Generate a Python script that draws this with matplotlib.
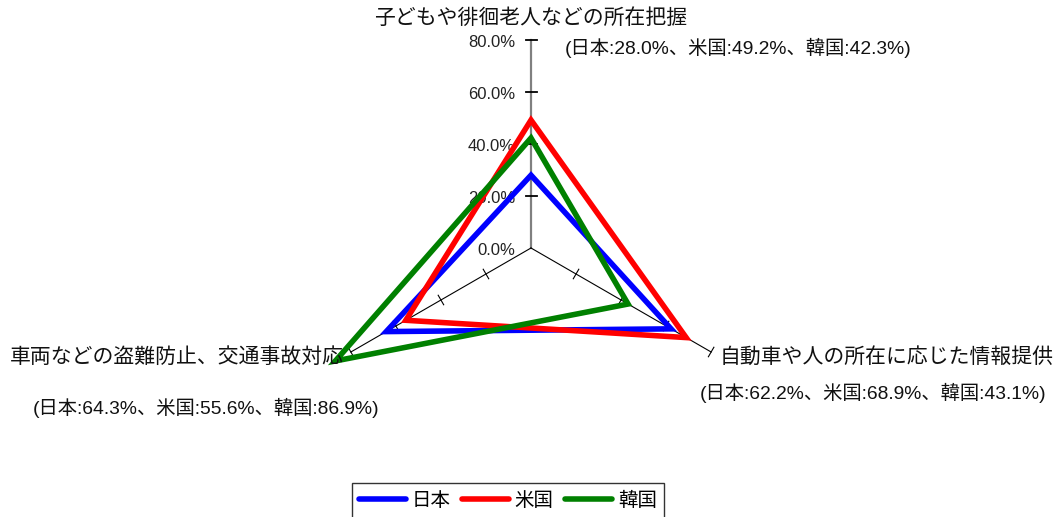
import numpy as np
import matplotlib
matplotlib.use('Agg')
import matplotlib.pyplot as plt
from matplotlib.lines import Line2D
from matplotlib.patches import Polygon
from matplotlib import font_manager

# ---- data ----
categories = ['子どもや徘徊老人などの所在把握',
              '自動車や人の所在に応じた情報提供',
              '車両などの盗難防止、交通事故対応']
series_names = ['日本', '米国', '韓国']
japan = [28.0, 62.2, 64.3]
usa = [49.2, 68.9, 55.6]
korea = [42.3, 43.1, 86.9]
radial_ticks = [0, 20, 40, 60, 80]
radial_tick_labels = ['0.0%', '20.0%', '40.0%', '60.0%', '80.0%']

series_values = [japan, usa, korea]
colors = ['#0000FF', '#FF0000', '#008000']

# ---- fonts ----
names = {f.name for f in font_manager.fontManager.ttflist}
narrow = 'Liberation Sans Narrow' if 'Liberation Sans Narrow' in names else 'Liberation Sans'
has_narrow = narrow == 'Liberation Sans Narrow'
cjk = 'Noto Sans CJK JP'
mixed = [narrow, cjk, 'DejaVu Sans']
plt.rcParams['font.family'] = [cjk, 'DejaVu Sans']

W, H = 1056, 517
fig = plt.figure(figsize=(W / 100, H / 100), dpi=100)
ax = fig.add_axes([0, 0, 1, 1])
s = 2.6          # pixels per percent
cx, cy = 531, 248  # centre in pixels (from top-left)
ax.set_xlim(-cx / s, (W - cx) / s)
ax.set_ylim(-(H - cy) / s, cy / s)
ax.axis('off')

angles = np.deg2rad([90, -30, 210])
rmax = radial_ticks[-1]


def xy(r, k):
    return r * np.cos(angles[k]), r * np.sin(angles[k])


# spokes
for k in range(3):
    x1, y1 = xy(rmax, k)
    if k == 0:
        ax.plot([0, x1], [0, y1], color='#808080', lw=1.6, zorder=1)
    else:
        ax.plot([0, x1], [0, y1], color='black', lw=0.8, zorder=1)
    # tick marks perpendicular to spokes
    half = 5.5 / s
    px, py = -np.sin(angles[k]), np.cos(angles[k])
    for t in radial_ticks[1:]:
        tx, ty = xy(t, k)
        ax.plot([tx - half * px, tx + half * px], [ty - half * py, ty + half * py],
                color='black', lw=1.3 if k == 0 else 0.8, zorder=1)

# radial tick labels on top spoke
tick_fs = 14 if has_narrow else 12
for t, lab in zip(radial_ticks, radial_tick_labels):
    ax.text(-6.2, t - 1.0, lab, ha='right', va='center', fontsize=tick_fs,
            family=mixed, color='#222222')

# series polygons
for vals, col in zip(series_values, colors):
    pts = [xy(v, k) for k, v in enumerate(vals)]
    ax.add_patch(Polygon(pts, closed=True, fill=False, edgecolor=col,
                         lw=4.0, joinstyle='miter', zorder=3))


def ann(vals_idx):
    sep = ' :' if has_narrow else ':'
    parts = []
    for name, vals in zip(series_names, series_values):
        parts.append(f'{name}{sep}{vals[vals_idx]:.1f}%')
    return '(' + '、'.join(parts) + ')'


def ftext(x, y, txt, ha='left', size=15, fam=None):
    fig.text(x / W, 1 - y / H, txt, ha=ha, va='center', fontsize=size,
             family=fam if fam else [cjk, 'DejaVu Sans'], color='#111111')


# category labels
ftext(531, 18, categories[0], ha='center', size=15)
ftext(720, 357, categories[1], size=15)
ftext(10, 357, categories[2], size=15)

# value annotations
ann_fs = 14 if has_narrow else 13.9
ftext(565, 48, ann(0), size=ann_fs, fam=mixed)
ftext(700, 393, ann(1), size=ann_fs, fam=mixed)
ftext(33, 408, ann(2), size=ann_fs, fam=mixed)

# legend
handles = [Line2D([0], [0], color=c, lw=4.0, solid_capstyle='round') for c in colors]
leg = fig.legend(handles, series_names, loc='upper center', ncol=3,
                 bbox_to_anchor=(508 / W, 1 - 483 / H), frameon=True,
                 fancybox=False, edgecolor='black', fontsize=14,
                 handlelength=2.4, handletextpad=0.3, columnspacing=0.6,
                 borderpad=0.35, borderaxespad=0)
leg.get_frame().set_linewidth(1.0)

fig.savefig('out.png', dpi=100)
